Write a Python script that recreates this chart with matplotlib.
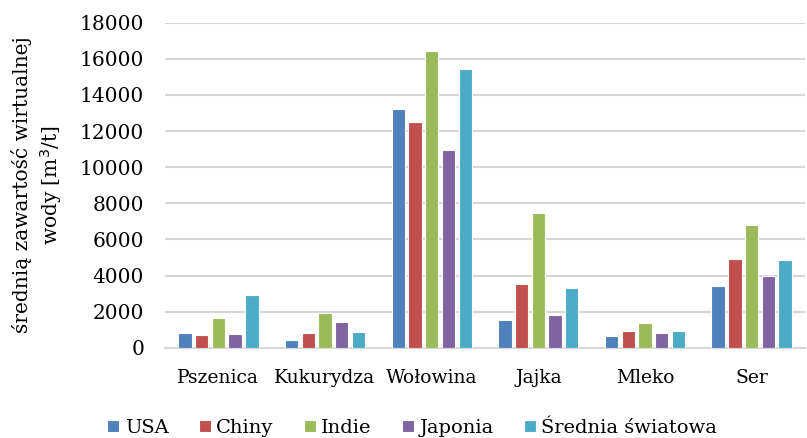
import numpy as np
import matplotlib.pyplot as plt

plt.rcParams['font.family'] = ['DejaVu Serif']

# Data
categories = ['Pszenica', 'Kukurydza', 'Wołowina', 'Jajka', 'Mleko', 'Ser']
series_names = ['USA', 'Chiny', 'Indie', 'Japonia', 'Średnia światowa']
usa = [820, 450, 13200, 1520, 670, 3440]
chiny = [680, 800, 12520, 3510, 940, 4910]
indie = [1660, 1950, 16420, 7480, 1370, 6780]
japonia = [740, 1440, 10950, 1800, 800, 3990]
srednia = [2950, 870, 15420, 3290, 940, 4840]
colors = ['#4F81BD', '#C0504D', '#9BBB59', '#8064A2', '#4BACC6']

values = [usa, chiny, indie, japonia, srednia]

fig = plt.figure(figsize=(8.07, 4.38), dpi=100)
ax = fig.add_axes([0.2045, 0.206, 0.793, 0.742])

x = np.arange(len(categories))
step = 0.157
width = 0.125
for i, (vals, name, c) in enumerate(zip(values, series_names, colors)):
    ax.bar(x + (i - 2) * step, vals, width, color=c, label=name,
           edgecolor='white', linewidth=0.8, zorder=3)

ax.set_xlim(-0.5, len(categories) - 0.5)
ax.set_ylim(0, 18000)
ax.set_yticks(np.arange(0, 18001, 2000))
ax.set_xticks(x)
ax.set_xticklabels(categories, fontsize=13.5)
ax.tick_params(axis='y', labelsize=14.5, length=0, pad=15)
ax.tick_params(axis='x', length=0, pad=15)
ax.grid(axis='y', color='#d6d6d6', linewidth=1.5, zorder=0)
for s in ['top', 'right', 'left']:
    ax.spines[s].set_visible(False)
ax.spines['bottom'].set_color('#d6d6d6')
ax.spines['bottom'].set_linewidth(1.5)

fig.text(0.046, 1 - 185 / 438, 'średnią zawartość wirtualnej\nwody [m$^3$/t]',
         rotation=90, ha='center', va='center', multialignment='center',
         fontsize=14.5, linespacing=1.3)

fig.legend(loc='center', bbox_to_anchor=(0.511, 1 - 428 / 438), ncol=5,
           frameon=False, fontsize=14, handlelength=0.6, handleheight=0.6,
           handletextpad=0.3, columnspacing=1.55)

fig.savefig('out.png', dpi=100)
